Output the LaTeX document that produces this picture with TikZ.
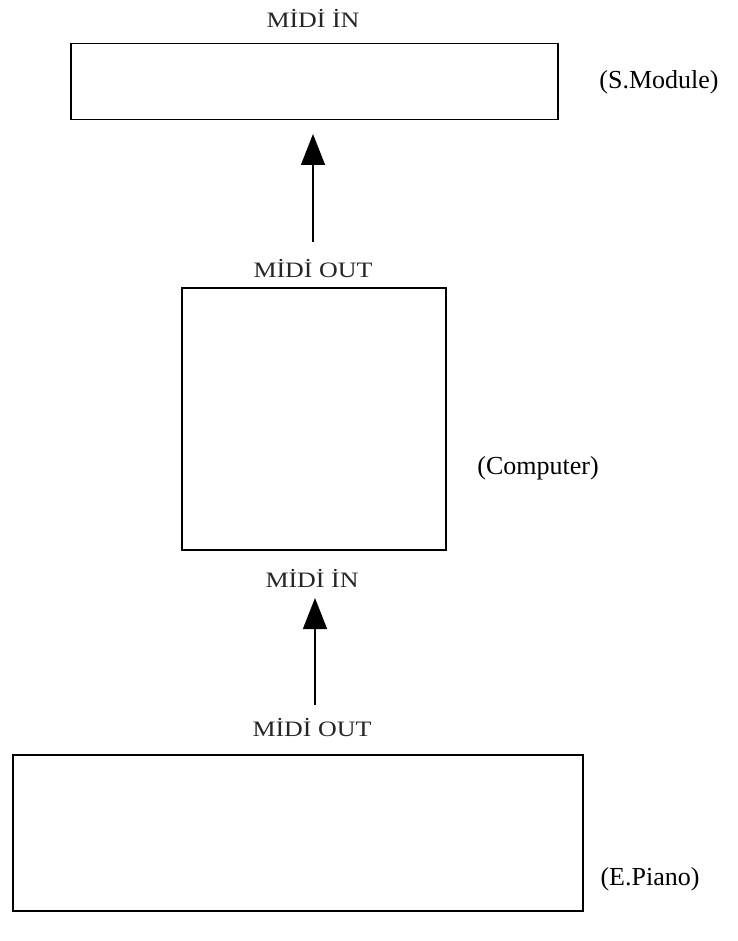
\documentclass[tikz,border=0pt]{standalone}
\usepackage{fontspec}
\setmainfont{Liberation Serif}
\usetikzlibrary{arrows.meta}
\begin{document}
\begin{tikzpicture}[x=1pt,y=-1pt,
  unit/.style={draw, line width=1.5pt, inner sep=0pt, anchor=north west},
  port/.style={font=\fontsize{22}{24}\selectfont, text=black!85, inner sep=0pt, xscale=1.18},
  devname/.style={font=\fontsize{26}{28}\selectfont, inner sep=0pt},
  link/.style={line width=1.4pt, -{Triangle[length=31pt,width=24pt]}}]
\useasboundingbox (0,0) rectangle (737,941);
% the three devices
\node[unit, minimum width=487pt, minimum height=76pt] (smod) at (70,43) {};
\node[unit, minimum width=264pt, minimum height=262pt] (comp) at (181,287) {};
\node[unit, minimum width=570pt, minimum height=156pt] (piano) at (12,754) {};
% device names
\node[devname] (smodname) at (659,82) {(S.Module)};
\node[devname] (compname) at (538,468) {(Computer)};
\node[devname] (pianoname) at (650,879) {(E.Piano)};
% port labels
\node[port] (smodin) at (313,18) {MİDİ İN};
\node[port] (compout) at (313,269) {MİDİ OUT};
\node[port] (compin) at (312,578) {MİDİ İN};
\node[port] (pianoout) at (312,728) {MİDİ OUT};
% MIDI cables
\coordinate (a1s) at (313,242);
\coordinate (a1e) at (313,134);
\coordinate (a2s) at (315,705);
\coordinate (a2e) at (315,598);
\draw[link] (a1s) -- (a1e);
\draw[link] (a2s) -- (a2e);
\end{tikzpicture}
\end{document}
